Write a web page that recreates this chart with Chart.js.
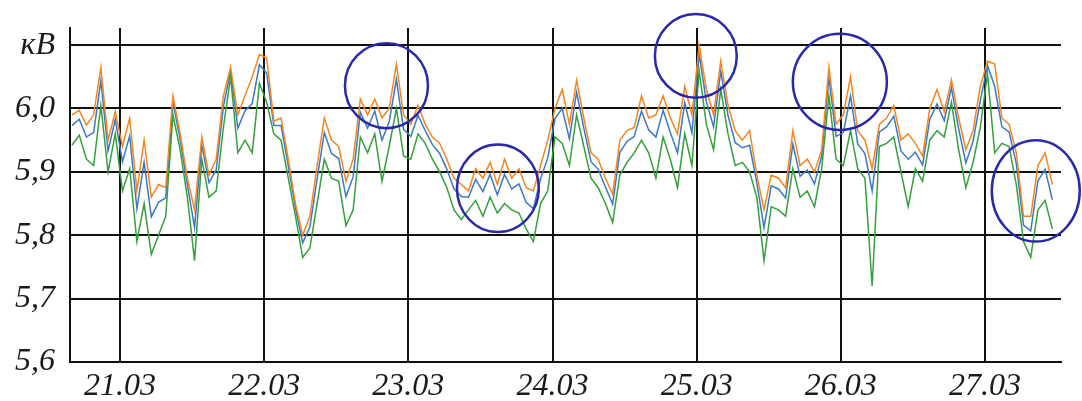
<!doctype html>
<html lang="ru">
  <head>
    <meta charset="utf-8">
    <title>Напряжение, кВ</title>
    <script src="https://cdn.jsdelivr.net/npm/chart.js"></script>
    <style>
      body { margin: 0; background: #fff; }
      #wrap { width: 1082px; height: 401px; }
    </style>
  </head>
  <body>
    <div id="wrap"><canvas id="voltChart" width="1082" height="401"></canvas></div>
    <script>
      // samples every 1/20 day starting at 20.03 16:00
      const startDay = 20.667;
      const stepDay = 0.05;

      const orange = [
        5.990, 5.997, 5.974, 5.990, 6.065, 5.950, 5.995, 5.940, 5.985, 5.870,
        5.950, 5.860, 5.880, 5.875, 6.020, 5.960, 5.890, 5.840, 5.955, 5.895,
        5.920, 6.020, 6.065, 5.990, 6.020, 6.050, 6.085, 6.080, 5.980, 5.985,
        5.920, 5.850, 5.800, 5.830, 5.910, 5.985, 5.950, 5.940, 5.885, 5.920,
        6.015, 5.990, 6.015, 5.985, 6.000, 6.070, 5.990, 5.975, 6.005, 5.975,
        5.955, 5.945, 5.920, 5.890, 5.880, 5.870, 5.905, 5.890, 5.915, 5.880,
        5.920, 5.890, 5.905, 5.875, 5.870, 5.910, 5.950, 6.000, 6.030, 5.975,
        6.045, 5.985, 5.930, 5.920, 5.890, 5.865, 5.950, 5.965, 5.970, 6.020,
        5.985, 5.990, 6.020, 5.985, 5.960, 6.035, 5.990, 6.100, 6.030, 5.990,
        6.075, 6.005, 5.965, 5.950, 5.965, 5.895, 5.840, 5.895, 5.890, 5.875,
        5.965, 5.910, 5.920, 5.900, 5.935, 6.065, 5.975, 5.990, 6.050, 5.965,
        5.950, 5.905, 5.975, 5.985, 6.005, 5.950, 5.960, 5.945, 5.925, 6.000,
        6.030, 5.995, 6.045, 5.985, 5.935, 5.965, 6.035, 6.075, 6.070, 5.985,
        5.975, 5.930, 5.830, 5.830, 5.910, 5.930, 5.880
      ];
      const blue = [
        5.973, 5.983, 5.955, 5.962, 6.044, 5.933, 5.983, 5.916, 5.957, 5.842,
        5.915, 5.829, 5.852, 5.859, 6.010, 5.951, 5.880, 5.812, 5.943, 5.883,
        5.903, 6.003, 6.060, 5.969, 5.996, 6.008, 6.069, 6.056, 5.973, 5.973,
        5.910, 5.843, 5.788, 5.813, 5.889, 5.962, 5.929, 5.921, 5.861, 5.892,
        5.994, 5.969, 5.996, 5.950, 5.979, 6.046, 5.967, 5.956, 5.989, 5.965,
        5.943, 5.929, 5.904, 5.873, 5.861, 5.860, 5.888, 5.869, 5.896, 5.864,
        5.896, 5.873, 5.881, 5.852, 5.842, 5.889, 5.922, 5.984, 6.000, 5.952,
        6.026, 5.969, 5.916, 5.904, 5.876, 5.849, 5.931, 5.948, 5.956, 5.996,
        5.966, 5.955, 5.997, 5.962, 5.930, 6.009, 5.962, 6.086, 6.011, 5.971,
        6.059, 5.989, 5.946, 5.938, 5.942, 5.883, 5.812, 5.878, 5.873, 5.859,
        5.944, 5.893, 5.903, 5.881, 5.925, 6.049, 5.956, 5.962, 6.020, 5.944,
        5.929, 5.870, 5.963, 5.971, 5.988, 5.933, 5.920, 5.931, 5.911, 5.983,
        6.007, 5.981, 6.033, 5.968, 5.914, 5.948, 6.012, 6.068, 6.035, 5.971,
        5.963, 5.913, 5.816, 5.807, 5.886, 5.904, 5.856
      ];
      const green = [
        5.942, 5.958, 5.920, 5.910, 6.005, 5.900, 5.960, 5.870, 5.905, 5.790,
        5.850, 5.770, 5.800, 5.830, 5.990, 5.935, 5.860, 5.760, 5.920, 5.860,
        5.870, 5.970, 6.050, 5.930, 5.950, 5.930, 6.040, 6.010, 5.960, 5.950,
        5.890, 5.830, 5.765, 5.780, 5.850, 5.920, 5.890, 5.885, 5.815, 5.840,
        5.955, 5.930, 5.960, 5.885, 5.940, 6.000, 5.925, 5.920, 5.960, 5.945,
        5.920, 5.900, 5.875, 5.840, 5.825, 5.840, 5.855, 5.830, 5.860, 5.835,
        5.850, 5.840, 5.835, 5.810, 5.790, 5.850, 5.870, 5.955, 5.945, 5.910,
        5.990, 5.940, 5.890, 5.875, 5.850, 5.820, 5.895, 5.915, 5.930, 5.950,
        5.930, 5.890, 5.955, 5.920, 5.875, 5.960, 5.910, 6.060, 5.975, 5.935,
        6.030, 5.960, 5.910, 5.915, 5.900, 5.860, 5.760, 5.845, 5.840, 5.830,
        5.905, 5.860, 5.870, 5.845, 5.905, 6.020, 5.920, 5.910, 5.965, 5.905,
        5.890, 5.720, 5.940, 5.945, 5.955, 5.900, 5.845, 5.905, 5.885, 5.950,
        5.965, 5.955, 6.010, 5.935, 5.875, 5.915, 5.970, 6.055, 5.930, 5.945,
        5.940, 5.880, 5.790, 5.765, 5.840, 5.855, 5.810
      ];

      const dayTicks = [21, 22, 23, 24, 25, 26, 27];
      const voltTicks = [5.6, 5.7, 5.8, 5.9, 6.0, 6.1];

      // highlighted regions (day, kV, half-width in days, half-height in kV)
      const rings = [
        { x: 22.848, y: 6.036, rx: 0.288, ry: 0.067 },
        { x: 23.621, y: 5.874, rx: 0.284, ry: 0.069 },
        { x: 24.994, y: 6.083, rx: 0.284, ry: 0.066 },
        { x: 25.993, y: 6.042, rx: 0.326, ry: 0.076 },
        { x: 27.352, y: 5.870, rx: 0.305, ry: 0.080 }
      ];

      const toPoints = arr => arr.map((v, i) => ({ x: startDay + i * stepDay, y: v }));

      const ringPlugin = {
        id: 'rings',
        afterDraw(chart) {
          const { ctx, scales: { x, y } } = chart;
          ctx.save();
          ctx.strokeStyle = '#2a2aa8';
          ctx.lineWidth = 2.5;
          rings.forEach(r => {
            const cx = x.getPixelForValue(r.x);
            const cy = y.getPixelForValue(r.y);
            const rx = x.getPixelForValue(r.x + r.rx) - cx;
            const ry = cy - y.getPixelForValue(r.y + r.ry);
            ctx.beginPath();
            ctx.ellipse(cx, cy, rx, ry, 0, 0, Math.PI * 2);
            ctx.stroke();
          });
          ctx.restore();
        }
      };

      const labelFont = { family: "'Liberation Serif'", size: 32, style: 'italic' };

      const ctx = document.getElementById('voltChart').getContext('2d');
      new Chart(ctx, {
        type: 'line',
        data: {
          datasets: [
            { label: 'green', data: toPoints(green), borderColor: '#33a03a', borderWidth: 1.5 },
            { label: 'orange', data: toPoints(orange), borderColor: '#f5861f', borderWidth: 1.5 },
            { label: 'blue', data: toPoints(blue), borderColor: '#3c78c4', borderWidth: 1.5 }
          ]
        },
        options: {
          responsive: false,
          animation: false,
          layout: { padding: { top: 28, right: 21, left: 0, bottom: 0 } },
          elements: { point: { radius: 0 }, line: { tension: 0, fill: false } },
          plugins: { legend: { display: false }, tooltip: { enabled: false } },
          scales: {
            x: {
              type: 'linear',
              min: 20.653,
              max: 27.527,
              afterBuildTicks: axis => { axis.ticks = dayTicks.map(v => ({ value: v })); },
              afterFit: axis => { axis.height = 39; axis.paddingLeft = 0; axis.paddingRight = 0; },
              grid: { color: '#111', lineWidth: 2, drawTicks: false },
              border: { color: '#111', width: 2 },
              ticks: {
                color: '#1a1a1a',
                font: labelFont,
                padding: 5,
                maxRotation: 0,
                autoSkip: false,
                callback: v => String(v) + '.03'
              }
            },
            y: {
              min: 5.6,
              max: 6.127,
              afterBuildTicks: axis => { axis.ticks = voltTicks.map(v => ({ value: v })); },
              afterFit: axis => { axis.width = 70; axis.paddingTop = 0; axis.paddingBottom = 0; },
              grid: { color: '#111', lineWidth: 2, drawTicks: false },
              border: { color: '#111', width: 2 },
              ticks: {
                color: '#1a1a1a',
                font: labelFont,
                padding: 15,
                callback: v => Math.abs(v - 6.1) < 1e-6 ? 'кВ' : v.toFixed(1).replace('.', ',')
              }
            }
          }
        },
        plugins: [ringPlugin]
      });
    </script>
  </body>
</html>
